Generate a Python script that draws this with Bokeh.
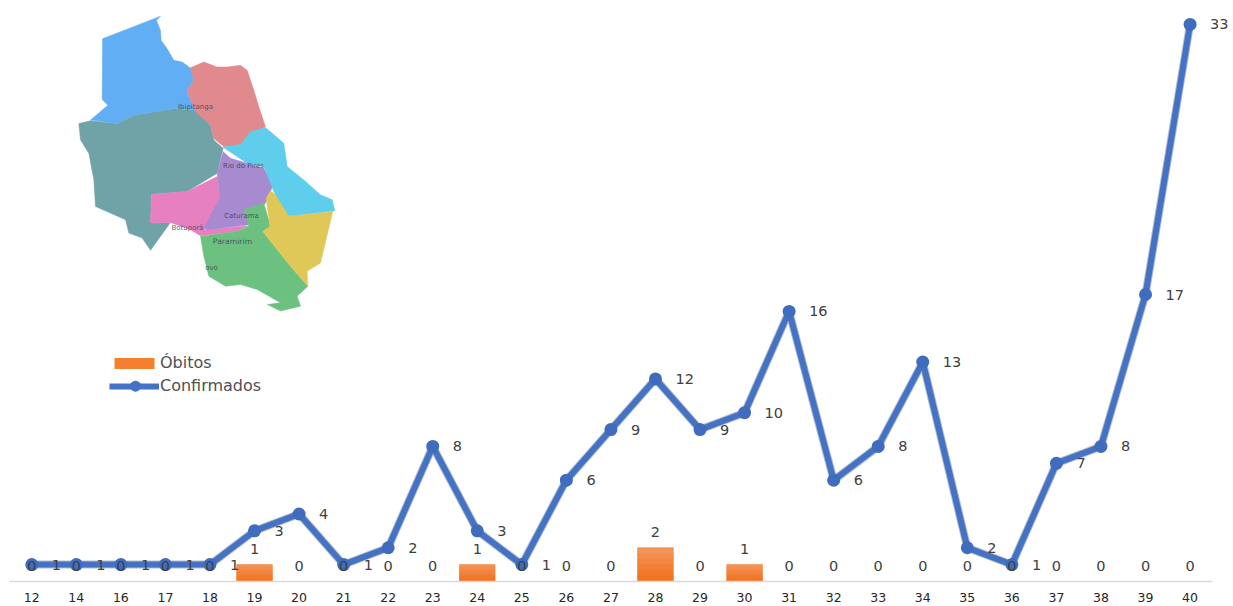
from bokeh.plotting import figure
from bokeh.embed import file_html
from bokeh.resources import INLINE
from bokeh.models import ColumnDataSource, FixedTicker, Range1d, LabelSet, Legend, LegendItem
from bokeh.core.properties import value

weeks = ["12","14","16","17","18","19","20","21","22","23","24","25","26","27","28","29","30","31","32","33","34","35","36","37","38","39","40"]
confirmados = [1,1,1,1,1,3,4,1,2,8,3,1,6,9,12,9,10,16,6,8,13,2,1,7,8,17,33]
obitos = [0,0,0,0,0,1,0,0,0,0,1,0,0,0,2,0,1,0,0,0,0,0,0,0,0,0,0]

# Decorative region map, in page pixels x3 (offset 70,10)
map_regions = [
 ("#6fa3a8", [(25,340),(60,332),(140,340),(190,315),(310,295),(375,300),(420,345),(430,390),(458,415),(440,490),(350,545),(243,553),(240,640),(300,638),(240,722),(215,685),(175,670),(165,630),(75,590),(70,510),(55,430),(30,390)]),
 ("#62aef5", [(96,85),(270,17),(258,30),(270,60),(272,90),(290,115),(310,150),(335,155),(362,175),(370,210),(350,240),(360,270),(375,300),(310,295),(190,315),(140,340),(60,330),(112,285),(95,268)]),
 ("#e08a8e", [(360,172),(400,155),(440,170),(470,170),(510,165),(530,180),(550,240),(565,290),(585,350),(530,380),(510,405),(460,410),(430,385),(420,345),(375,305),(360,270),(350,240),(370,210)]),
 ("#e680c0", [(440,500),(448,565),(400,660),(530,648),(500,665),(390,678),(360,660),(300,638),(240,640),(243,553),(350,545)]),
 ("#a78ad0", [(458,425),(480,445),(580,475),(608,525),(585,580),(535,620),(535,645),(410,660),(400,655),(448,565),(440,490)]),
 ("#6cc180", [(390,680),(500,665),(535,648),(520,600),(580,580),(600,650),(577,665),(600,695),(660,770),(712,830),(680,860),(690,890),(630,905),(590,885),(630,880),(560,840),(510,825),(465,830),(415,800),(400,740)]),
 ("#e0c858", [(600,543),(630,565),(655,618),(787,605),(750,760),(710,785),(712,830),(660,770),(600,695),(577,665),(598,650),(587,565)]),
 ("#5fcdec", [(458,412),(510,403),(540,365),(585,352),(640,400),(650,470),(700,510),(750,555),(785,570),(793,603),(655,618),(610,545),(580,470),(530,460)]),
]
map_names = [("Ibipitanga",195,107,"7px"),("Rio do Pires",243,166,"7px"),("Caturama",241,216,"7px"),("Botuporã",187,228,"7px"),("Paramirim",232,242,"7.7px"),("ovo",211,268,"7px")]
bar_shades = ["#f4935a", "#f48c4c", "#f38641", "#f28036", "#f17a2b", "#f07421"]

W, H = 1230, 604
BOTTOM = 583
pos = [i + 0.5 for i in range(len(weeks))]
p = figure(width=W, height=H, output_backend="svg", toolbar_location=None,
           x_range=Range1d(0, (W-9)/44.55), y_range=Range1d(0, (BOTTOM-8)/16.94),
           min_border_left=9, min_border_right=0, min_border_top=8, min_border_bottom=H-BOTTOM,
           outline_line_color=None, background_fill_color="white")
p.extra_x_ranges["px"] = Range1d(9, W)
p.extra_y_ranges["px"] = Range1d(BOTTOM, 8)
p.grid.visible = False
p.yaxis.visible = False
ax = p.xaxis[0]
ax.ticker = FixedTicker(ticks=pos)
ax.bounds = (0, len(weeks))
ax.major_label_overrides = {x: w for x, w in zip(pos, weeks)}
ax.axis_line_color = "#d9d9d9"
ax.axis_line_width = 1.5
ax.major_tick_line_color = None
ax.minor_tick_line_color = None
ax.major_label_text_font = "DejaVu Sans"
ax.major_label_text_font_size = "12.5px"
ax.major_label_text_color = "#262626"
ax.major_label_standoff = 5

# map
for col, pts in map_regions:
    p.patch([70+a/3 for a, b in pts], [10+b/3 for a, b in pts], fill_color=col, line_color=col,
            line_width=0.5, x_range_name="px", y_range_name="px")
for name, x, y, fs in map_names:
    p.text([x], [y], text=[name], x_range_name="px", y_range_name="px", text_align="center",
           text_baseline="middle", text_font=value("DejaVu Sans"), text_font_size=fs,
           text_color="#404050", text_alpha=0.85)

src = ColumnDataSource(dict(week=pos, conf=confirmados, ob=obitos,
                            ob_lab=[str(v) for v in obitos], conf_lab=[str(v) for v in confirmados]))
bars = p.vbar(x="week", top="ob", width=0.8, source=src, fill_color="#f4802f", line_color=None)
n = len(bar_shades)
for k, shade in enumerate(bar_shades):
    p.vbar(x=pos, top=[v*(1-k/n) for v in obitos], bottom=[v*(1-(k+1)/n) for v in obitos], width=0.8,
           fill_color=shade, line_color=shade, line_width=0.5)
p.line(x="week", y="conf", source=src, line_color="#1f3864", line_alpha=0.35, line_width=8)
line = p.line(x="week", y="conf", source=src, line_color="#4472c4", line_width=6, line_join="round")
dots = p.scatter(x="week", y="conf", source=src, size=13, fill_color="#3f6cbc", line_color=None)

p.add_layout(LabelSet(x="week", y="ob", text="ob_lab", source=src, y_offset=16, text_align="center",
                      text_baseline="middle", text_font=value("DejaVu Sans"), text_font_size="14.5px",
                      text_color="#404040"))
p.add_layout(LabelSet(x="week", y="conf", text="conf_lab", source=src, x_offset=20, text_align="left",
                      text_baseline="middle", text_font=value("DejaVu Sans"), text_font_size="14.5px",
                      text_color="#404040"))

legend = Legend(items=[LegendItem(label="Óbitos", renderers=[bars]),
                       LegendItem(label="Confirmados", renderers=[line])],
                location=(100, 186), orientation="vertical", background_fill_alpha=0, border_line_color=None,
                glyph_width=50, glyph_height=14, spacing=4, margin=0, padding=0, label_standoff=1,
                label_text_font="DejaVu Sans", label_text_font_size="16px", label_text_color="#505050")
p.add_layout(legend, "center")
p.scatter([135], [387], size=11, fill_color="#4472c4", line_color=None, x_range_name="px", y_range_name="px")

open("out.html", "w").write(file_html(p, INLINE))
